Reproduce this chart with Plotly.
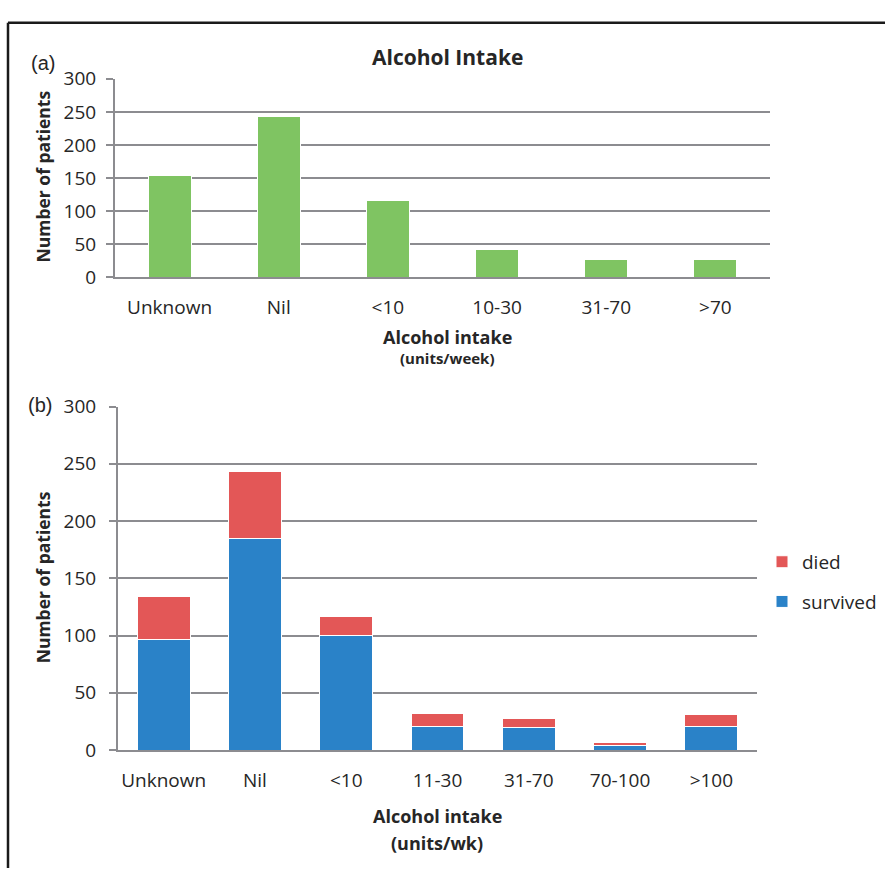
import plotly.graph_objects as go

# Panel (a): all patients by weekly alcohol intake
cats_a = ["Unknown", "Nil", "<10", "10-30", "31-70", ">70"]
patients_a = [154, 243, 116, 42, 27, 27]

# Panel (b): outcome split by weekly alcohol intake
cats_b = ["Unknown", "Nil", "<10", "11-30", "31-70", "70-100", ">100"]
survived_b = [97, 185, 100, 21, 20, 4, 21]
died_b = [37, 58, 17, 11, 8, 3, 10]

y_ticks = [0, 50, 100, 150, 200, 250, 300]

W, H = 885, 881
FONT = "'Open Sans', Lato, sans-serif"
GREEN = "#7fc462"
RED = "#e35757"
BLUE = "#2a82c8"
GRID = "#8c8c90"
TXT = "#262626"


def px(x):
    return x / W


def py(y):
    return 1 - y / H


fig = go.Figure()

fig.add_trace(go.Bar(
    x=cats_a, y=patients_a, xaxis="x", yaxis="y",
    marker=dict(color=GREEN, line=dict(color="white", width=1)),
    width=0.394, showlegend=False, name="patients",
))

fig.add_trace(go.Bar(
    x=cats_b, y=survived_b, xaxis="x2", yaxis="y2",
    marker=dict(color=BLUE, line=dict(color="white", width=1)),
    width=0.58, name="survived", legendgroup="s", legendrank=2,
))
fig.add_trace(go.Bar(
    x=cats_b, y=died_b, xaxis="x2", yaxis="y2",
    marker=dict(color=RED, line=dict(color="white", width=1)),
    width=0.58, name="died", legendgroup="d", legendrank=1,
))

axis_common = dict(
    showline=True, linecolor=GRID, linewidth=2,
    tickfont=dict(family=FONT, size=19, color=TXT),
    fixedrange=True,
)
yaxis_common = dict(
    range=[0, 300], tickvals=y_ticks,
    ticks="outside", ticklen=7, tickcolor=GRID, tickwidth=2,
    showgrid=True, gridcolor=GRID, gridwidth=2, zeroline=False,
    **axis_common,
)

fig.update_layout(
    width=W, height=H,
    margin=dict(l=0, r=0, t=0, b=0),
    paper_bgcolor="white", plot_bgcolor="white",
    barmode="stack",
    font=dict(family=FONT, color=TXT),
    xaxis=dict(
        domain=[px(115), px(770)], anchor="y",
        ticks="", ticklabelstandoff=12, showgrid=False, **axis_common,
    ),
    yaxis=dict(domain=[py(272.5), py(67.8)], anchor="x",
               ticklabelstandoff=6, **yaxis_common),
    xaxis2=dict(
        domain=[px(118), px(757)], anchor="y2",
        ticks="", ticklabelstandoff=12, showgrid=False, **axis_common,
    ),
    yaxis2=dict(domain=[py(759.5), py(405.5)], anchor="x2",
                ticklabelstandoff=9, **yaxis_common),
    legend=dict(
        x=px(762), y=py(546), xanchor="left", yanchor="top",
        font=dict(family=FONT, size=19, color=TXT),
        traceorder="grouped", tracegroupgap=12,
        itemwidth=30, bgcolor="rgba(0,0,0,0)",
    ),
)

annotations = [
    dict(text="<b>Alcohol Intake</b>", x=447, y=45, size=21, fam=FONT),
    dict(text="(a)", x=42.5, y=52, size=20, fam="'Liberation Sans', Arial, sans-serif"),
    dict(text="(b)", x=40, y=404, size=20, fam="'Liberation Sans', Arial, sans-serif"),
    dict(text="<b>Alcohol intake</b>", x=447, y=334, size=18, fam=FONT),
    dict(text="<b>(units/week)</b>", x=447, y=356, size=15, fam=FONT),
    dict(text="<b>Alcohol intake</b>", x=437, y=827, size=18, fam=FONT),
    dict(text="<b>(units/wk)</b>", x=437, y=855, size=18, fam=FONT),
]
for a in annotations:
    fig.add_annotation(
        text=a["text"], x=px(a["x"]), y=py(a["y"]), xref="paper", yref="paper",
        xanchor="center", yanchor="middle", showarrow=False,
        font=dict(family=a["fam"], size=a["size"], color=TXT),
    )

for yc in (168.5, 581.5):
    fig.add_annotation(
        text="<b>Number of patients</b>", x=px(43), y=py(yc),
        xref="paper", yref="paper", textangle=-90,
        xanchor="center", yanchor="middle", showarrow=False,
        font=dict(family=FONT, size=17.5, color=TXT),
    )

# frame lines along the top and left edges
fig.add_shape(type="line", xref="paper", yref="paper",
              x0=px(8), x1=1.0, y0=py(10), y1=py(10),
              line=dict(color="#1a1a1a", width=2.5))
fig.add_shape(type="line", xref="paper", yref="paper",
              x0=px(8), x1=px(8), y0=py(10), y1=0.0,
              line=dict(color="#1a1a1a", width=2.5))

fig.write_html("out.html")
